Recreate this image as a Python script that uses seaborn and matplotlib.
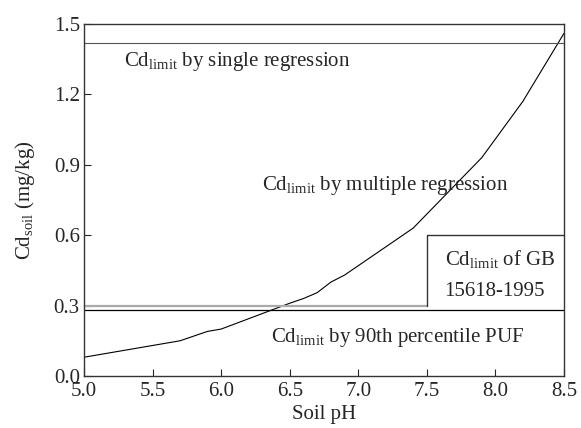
import pandas as pd
import matplotlib
matplotlib.use("Agg")
import matplotlib.pyplot as plt
import seaborn as sns

# multiple regression curve
ph = [5.0, 5.7, 5.9, 6.0, 6.5, 6.6, 6.7, 6.8, 6.9, 7.4, 7.9, 8.2, 8.5]
cd_multi = [0.08, 0.15, 0.19, 0.20, 0.31, 0.33, 0.355, 0.40, 0.43, 0.63, 0.93, 1.17, 1.46]

cd_single = 1.42
cd_puf = 0.28
gb_ph = [5.0, 7.5, 7.5, 8.5]
gb_cd = [0.3, 0.3, 0.6, 0.6]

x_ticks = [5.0, 5.5, 6.0, 6.5, 7.0, 7.5, 8.0, 8.5]
y_ticks = [0.0, 0.3, 0.6, 0.9, 1.2, 1.5]

sns.set_style("ticks")
plt.rcParams['font.family'] = ['Liberation Serif', 'DejaVu Serif']
plt.rcParams['mathtext.fontset'] = 'custom'
plt.rcParams['mathtext.rm'] = 'Liberation Serif'
plt.rcParams['mathtext.it'] = 'Liberation Serif:italic'
plt.rcParams['font.size'] = 15

fig = plt.figure(figsize=(5.81, 4.28), dpi=100)
ax = fig.add_axes([0.1446, 0.1215, 0.8261, 0.8225])

df = pd.DataFrame({"pH": ph, "Cd": cd_multi})
sns.lineplot(data=df, x="pH", y="Cd", ax=ax, color="black", lw=0.8)

ax.axhline(cd_single, color="#555555", lw=0.8)
ax.axhline(cd_puf, color="black", lw=0.9)
ax.plot(gb_ph[:2], gb_cd[:2], color="#aaaaaa", lw=1.6)
ax.plot(gb_ph[1:], gb_cd[1:], color="#333333", lw=1.0)

lim = r"Cd$_{\mathrm{limit}}$"
ax.text(5.29, 1.342, lim + " by single regression", va="center", ha="left")
ax.text(6.30, 0.81, lim + " by multiple regression", va="center", ha="left")
ax.text(7.63, 0.50, lim + " of GB", va="center", ha="left")
ax.text(7.63, 0.362, "15618-1995", va="center", ha="left")
ax.text(6.36, 0.166, lim + " by 90th percentile PUF", va="center", ha="left")

ax.set_xlim(5.0, 8.5)
ax.set_ylim(0.0, 1.5)
ax.set_xticks(x_ticks)
ax.set_yticks(y_ticks)
ax.set_xticklabels([f"{v:.1f}" for v in x_ticks])
ax.set_yticklabels([f"{v:.1f}" for v in y_ticks])
ax.tick_params(direction="in", length=5, width=0.8, labelsize=15)
ax.tick_params(axis="x", pad=4)
ax.tick_params(axis="y", pad=3)
ax.set_xlabel("Soil pH", fontsize=15, labelpad=3)
ax.set_ylabel(r"Cd$_{\mathrm{soil}}$ (mg/kg)", fontsize=15, labelpad=12)
for s in ax.spines.values():
    s.set_visible(True)
    s.set_color("#333333")
    s.set_linewidth(1.0)

fig.savefig("out.png", dpi=100)
